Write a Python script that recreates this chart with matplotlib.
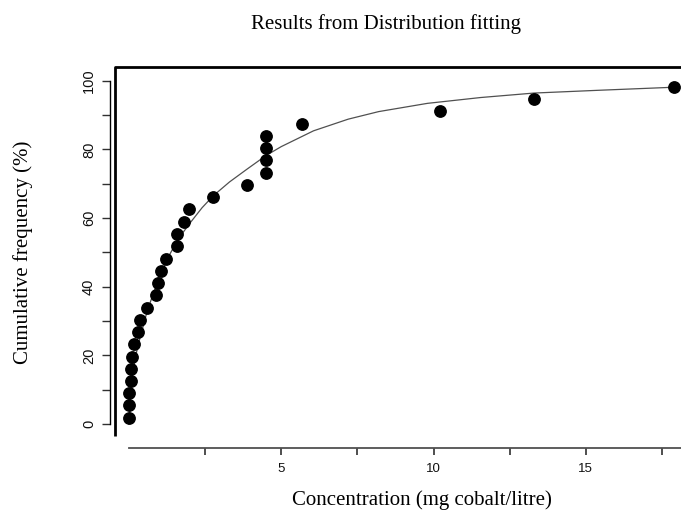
import matplotlib
matplotlib.use("Agg")
import matplotlib.pyplot as plt
from matplotlib.ticker import FixedLocator

# Observed data points (concentration, cumulative frequency %)
conc = [0.0, 0.0, 0.0, 0.05, 0.08, 0.09, 0.17, 0.29, 0.36, 0.60, 0.88, 0.96,
        1.04, 1.21, 1.57, 1.57, 1.81, 1.97, 2.77, 3.87, 4.50, 4.50, 4.50, 4.50,
        5.68, 10.2, 13.3, 17.9]
cumfreq = [1.8, 5.4, 8.9, 12.5, 16.1, 19.6, 23.2, 26.8, 30.4, 33.9, 37.5, 41.1,
           44.6, 48.2, 51.8, 55.4, 58.9, 62.5, 66.1, 69.6, 73.2, 76.8, 80.4, 83.9,
           87.5, 91.1, 94.6, 98.2]

# Fitted distribution curve
fit_x = [0.0, 0.05, 0.1, 0.2, 0.3, 0.45, 0.6, 0.8, 1.0, 1.25, 1.5, 1.75, 2.0,
         2.4, 2.77, 3.3, 3.87, 4.5, 5.0, 6.06, 7.2, 8.2, 9.8, 11.55, 13.3,
         15.4, 17.9]
fit_y = [0.0, 8.0, 13.0, 19.0, 23.0, 28.0, 33.0, 38.0, 43.0, 48.0, 52.0, 55.5,
         58.5, 63.0, 66.5, 70.5, 74.2, 78.2, 80.8, 85.4, 88.8, 91.0, 93.4,
         95.1, 96.4, 97.2, 98.1]

x_major = [5, 10, 15]
x_minor = [2.5, 7.5, 12.5, 17.5]
y_major = [0, 20, 40, 60, 80, 100]
y_minor = [10, 30, 50, 70, 90]

title = "Results from Distribution fitting"
xlabel = "Concentration (mg cobalt/litre)"
ylabel = "Cumulative frequency (%)"

W, H = 681, 521
fig = plt.figure(figsize=(W / 100, H / 100), dpi=100)
fig.patch.set_facecolor("white")

left_px, right_px, top_px, bottom_px = 115, 690, 67, 436
ax = fig.add_axes([left_px / W, 1 - bottom_px / H,
                   (right_px - left_px) / W, (bottom_px - top_px) / H])

x0_px, xscale = 129.0, 30.45
y0_px, yscale = 424.0, 3.433
ax.set_xlim((left_px - x0_px) / xscale, (right_px - x0_px) / xscale)
ax.set_ylim((y0_px - bottom_px) / yscale, (y0_px - top_px) / yscale)

ax.plot(fit_x, fit_y, color="#505050", lw=0.9, zorder=2)
ax.plot(conc, cumfreq, "o", color="black", ms=8.2, zorder=3)

# frame (top and left) as in the original
ax.plot([0, 0, 1], [0, 1, 1], transform=ax.transAxes, color="black",
        lw=2.0, clip_on=False, solid_capstyle="butt", zorder=4)

for s in ["top", "right"]:
    ax.spines[s].set_visible(False)
ax.spines["bottom"].set_position(("outward", 12 * 0.72))
ax.spines["bottom"].set_bounds(0, (right_px - x0_px) / xscale)
ax.spines["bottom"].set_color("#505050")
ax.spines["bottom"].set_linewidth(1.3)
ax.spines["left"].set_position(("outward", 5 * 0.72))
ax.spines["left"].set_bounds(0, 100)
ax.spines["left"].set_linewidth(1.0)

ax.xaxis.set_major_locator(FixedLocator(x_major))
ax.xaxis.set_minor_locator(FixedLocator(x_minor))
ax.yaxis.set_major_locator(FixedLocator(y_major))
ax.yaxis.set_minor_locator(FixedLocator(y_minor))
ax.set_xticklabels([str(v) for v in x_major])
ax.set_yticklabels([str(v) for v in y_major], rotation=90, va="center")

tick_family = ["Liberation Sans Narrow", "Liberation Sans", "DejaVu Sans"]
for lab in ax.get_xticklabels():
    lab.set_fontfamily(tick_family)
    lab.set_fontsize(9.5)
    lab.set_color("#111111")
for lab in ax.get_yticklabels():
    lab.set_fontfamily(tick_family)
    lab.set_fontsize(10.5)
    lab.set_color("#111111")

ax.tick_params(axis="x", which="both", direction="out", length=5, width=1.2,
               color="#303030", pad=6)
ax.tick_params(axis="y", which="both", direction="out", length=6, width=1.0,
               color="#303030", pad=4)

serif = ["Liberation Serif", "DejaVu Serif"]
fig.text(386 / W, 1 - 24 / H, title, ha="center", va="center",
         family=serif, size=15)
fig.text(422 / W, 1 - 500 / H, xlabel, ha="center", va="center",
         family=serif, size=15)
fig.text(23 / W, 1 - 252 / H, ylabel, ha="center", va="center",
         rotation=90, family=serif, size=15)

fig.savefig("out.png", dpi=100, facecolor="white")
